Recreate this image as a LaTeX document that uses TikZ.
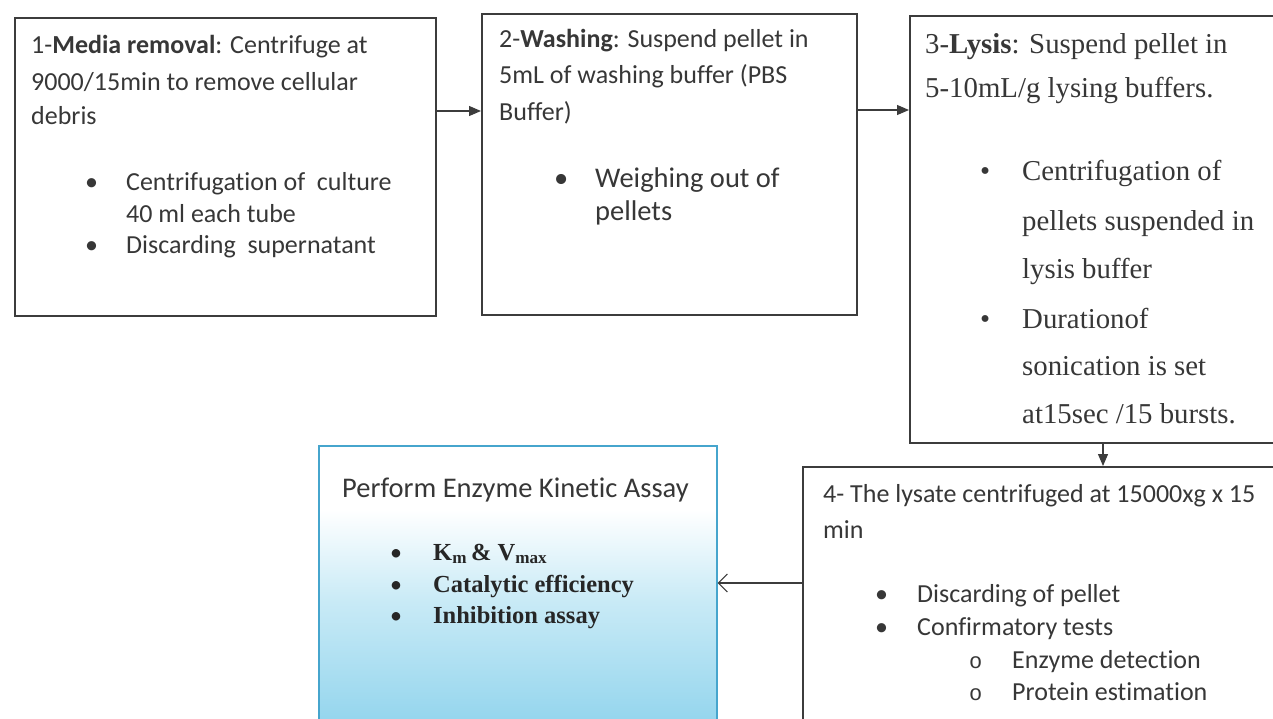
\documentclass[tikz,border=0pt]{standalone}
\usepackage{fontspec}
\setmainfont{Carlito}[Ligatures={NoCommon}]
\newfontfamily\tnr{Liberation Serif}
\newfontfamily\cour{Liberation Mono}
\usetikzlibrary{arrows.meta}
\definecolor{ink}{RGB}{55,55,55}
\definecolor{boxline}{RGB}{60,60,60}
\definecolor{kinblue}{RGB}{135,208,235}
\definecolor{kinmid}{RGB}{200,234,246}
\definecolor{kinedge}{RGB}{70,165,205}
\pgfdeclareverticalshading{kinshade}{100bp}{color(0bp)=(kinblue); color(22bp)=(kinblue); color(48bp)=(kinmid); color(64bp)=(white); color(100bp)=(white)}
\tikzset{
  stepbox/.style={draw=boxline, line width=1.5pt, rectangle, inner sep=0pt, anchor=north west},
  arr/.style={draw=boxline, line width=1.2pt, -{Triangle[length=12pt,width=10pt]}},
  openarr/.style={draw=boxline, line width=1.2pt, -{Straight Barb[length=9pt,width=18pt]}},
  t/.style={anchor=base west, inner sep=0pt, text=ink},
  cal/.style={t, font=\fontsize{26}{26}\selectfont},
  calbig/.style={t, font=\fontsize{28.5}{28.5}\selectfont},
  tms/.style={t, font=\tnr\fontsize{28.8}{28.8}\selectfont},
  tmsb/.style={t, text=black!85, font=\tnr\bfseries\fontsize{24.5}{24.5}\selectfont},
  cal4/.style={t, font=\fontsize{26}{26}\selectfont},
}
\newcommand{\bul}[2]{\makebox[#1pt][l]{•}#2}
\begin{document}
\begin{tikzpicture}[x=1pt,y=-1pt]
\useasboundingbox (0,0) rectangle (1273,718);
% boxes
\node[stepbox, minimum width=421pt, minimum height=298pt] (b1) at (14,17) {};
\node[stepbox, minimum width=375pt, minimum height=301pt] (b2) at (481,13) {};
\node[stepbox, minimum width=390pt, minimum height=427pt] (b3) at (909,15) {};
\node[stepbox, minimum width=490pt, minimum height=270pt] (b4) at (802,466) {};
\node[stepbox, draw=kinedge, shading=kinshade, minimum width=398pt, minimum height=290pt] (b5) at (318,445) {};
% arrows
\draw[arr] (b1.east |- 0,111) -- (b2.west |- 0,111);
\draw[arr] (b2.east |- 0,110) -- (b3.west |- 0,110);
\draw[arr] (b3.south -| 1103,0) -- (b4.north -| 1103,0);
\draw[openarr] (b4.west |- 0,583) -- (b5.east |- 0,583);
% box 1
\node[cal] (t1a) at (31,53) {1-\textbf{Media removal}: Centrifuge at};
\node[cal] (t1b) at (31,90) {9000/15min to remove cellular};
\node[cal] (t1c) at (31,124) {debris};
\node[cal] (t1d) at (85,190) {\bul{41}{Centrifugation of\ \ culture}};
\node[cal] (t1e) at (126,222) {40 ml each tube};
\node[cal] (t1f) at (85,253) {\bul{41}{Discarding\ \ supernatant}};
% box 2
\node[cal] (t2a) at (499,47) {2-\textbf{Washing}: Suspend pellet in};
\node[cal] (t2b) at (499,83) {5mL of washing buffer (PBS};
\node[cal] (t2c) at (499,120) {Buffer)};
\node[calbig] (t2d) at (554,187) {\bul{41}{Weighing out of}};
\node[calbig] (t2e) at (595,220) {pellets};
% box 3
\node[tms] (t3a) at (925,53) {3-\textbf{Lysis}: Suspend pellet in};
\node[tms] (t3b) at (925,97) {5-10mL/g lysing buffers.};
\node[tms] (t3c) at (980,180) {\bul{42}{Centrifugation of}};
\node[tms] (t3d) at (1022,230) {pellets suspended in};
\node[tms] (t3e) at (1022,278) {lysis buffer};
\node[tms] (t3f) at (980,328) {\bul{42}{Durationof}};
\node[tms] (t3g) at (1022,375) {sonication is set};
\node[tms] (t3h) at (1022,423) {at15sec /15 bursts.};
% box 4
\node[cal] (t4a) at (823,502) {4- The lysate centrifuged at 15000xg x 15};
\node[cal] (t4b) at (823,538) {min};
\node[cal4] (t4c) at (875,602) {\bul{42}{Discarding of pellet}};
\node[cal4] (t4d) at (875,635) {\bul{42}{Confirmatory tests}};
\node[cal4] (t4e) at (969,668) {\makebox[43pt][l]{\cour\fontsize{22}{22}\selectfont o}Enzyme detection};
\node[cal4] (t4f) at (969,700) {\makebox[43pt][l]{\cour\fontsize{22}{22}\selectfont o}Protein estimation};
% box 5
\node[t, font=\fontsize{28.5}{28.5}\selectfont] (t5a) at (342,497) {Perform Enzyme Kinetic Assay};
\node[tmsb] (t5b) at (390,560) {\makebox[43pt][l]{\normalfont\fontsize{24}{24}\selectfont •}K\textsubscript{m}\,\& V\textsubscript{max}};
\node[tmsb] (t5c) at (390,592) {\makebox[43pt][l]{\normalfont\fontsize{24}{24}\selectfont •}Catalytic efficiency};
\node[tmsb] (t5d) at (390,623) {\makebox[43pt][l]{\normalfont\fontsize{24}{24}\selectfont •}Inhibition assay};
\end{tikzpicture}
\end{document}
